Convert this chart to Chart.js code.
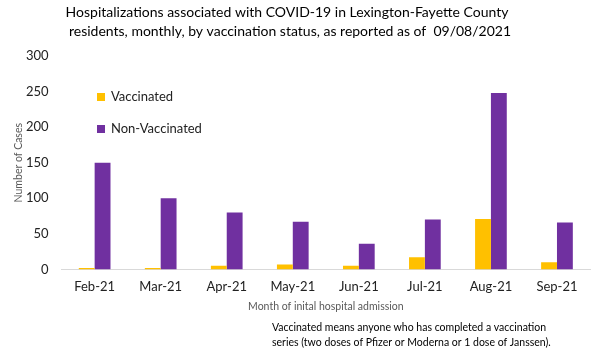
<!DOCTYPE html>
<html><head><meta charset="utf-8">
<script src="https://cdn.jsdelivr.net/npm/chart.js@4"></script>
<style>html,body{margin:0;padding:0;background:#fff}#wrap{width:600px;height:350px}</style>
</head><body><div id="wrap"><canvas id="c" width="600" height="350"></canvas></div>
<script>
const categories = ["Feb-21","Mar-21","Apr-21","May-21","Jun-21","Jul-21","Aug-21","Sep-21"];
const vaccinated = [2, 2, 5, 7, 5, 17, 71, 10];
const nonVaccinated = [150, 100, 80, 67, 36, 70, 248, 66];
const yTicks = [0, 50, 100, 150, 200, 250, 300];
const titleLines = ["Hospitalizations associated with COVID-19 in Lexington-Fayette County",
                    "residents, monthly, by vaccination status, as reported as of  09/08/2021"];
const footLines = ["Vaccinated means anyone who has completed a vaccination",
                   "series (two doses of Pfizer or Moderna or 1 dose of Janssen)."];
const yAxisTitle = "Number of Cases";
const xAxisTitle = "Month of inital hospital admission";
const FONT = "Lato, 'Open Sans', sans-serif";

const textPlugin = {
  id: 'texts',
  afterDraw(chart) {
    const ctx = chart.ctx;
    const a = chart.chartArea;
    ctx.save();
    ctx.fillStyle = '#000';
    ctx.font = "14px " + FONT;
    ctx.textAlign = 'center';
    ctx.textBaseline = 'middle';
    ctx.fillText(titleLines[0], 287, 12);
    ctx.fillText(titleLines[1], 290, 31);
    // y axis title
    ctx.save();
    ctx.translate(19, (a.top + a.bottom) / 2);
    ctx.rotate(-Math.PI / 2);
    ctx.fillStyle = '#595959';
    ctx.font = "10.5px " + FONT;
    ctx.fillText(yAxisTitle, 0, 0);
    ctx.restore();
    // x axis title
    ctx.fillStyle = '#595959';
    ctx.font = "10.5px " + FONT;
    ctx.fillText(xAxisTitle, (a.left + a.right) / 2, 307);
    // footnote
    ctx.fillStyle = '#000';
    ctx.font = "10.5px " + FONT;
    ctx.textAlign = 'left';
    ctx.fillText(footLines[0], 272, 328);
    ctx.fillText(footLines[1], 272, 343);
    // legend
    ctx.font = "13px " + FONT;
    const ds = chart.data.datasets;
    const ys = [97, 129];
    ds.forEach((d, i) => {
      ctx.fillStyle = d.backgroundColor;
      ctx.fillRect(97, ys[i] - 4, 8, 8);
      ctx.fillStyle = '#222';
      ctx.fillText(d.label, 111, ys[i]);
    });
    ctx.restore();
  }
};

new Chart(document.getElementById('c'), {
  type: 'bar',
  data: {
    labels: categories,
    datasets: [
      { label: 'Vaccinated', data: vaccinated, backgroundColor: '#FFC000', borderWidth: 0 },
      { label: 'Non-Vaccinated', data: nonVaccinated, backgroundColor: '#7030A0', borderWidth: 0 }
    ]
  },
  options: {
    responsive: false,
    animation: false,
    devicePixelRatio: 1,
    layout: { padding: { top: 56, bottom: 45, left: 13, right: 10 } },
    datasets: { bar: { barPercentage: 1.0, categoryPercentage: 0.48 } },
    plugins: { legend: { display: false }, title: { display: false }, tooltip: { enabled: false } },
    scales: {
      x: {
        grid: { display: false, drawTicks: false },
        border: { display: true, color: '#d9d9d9', width: 1 },
        ticks: { color: '#222', font: { family: FONT, size: 13 }, padding: 10 }
      },
      y: {
        min: 0, max: 300,
        afterBuildTicks(axis) { axis.ticks = yTicks.map(v => ({ value: v })); },
        grid: { display: false, drawTicks: false },
        border: { display: false },
        ticks: { color: '#222', font: { family: FONT, size: 13 }, padding: 13 }
      }
    }
  },
  plugins: [textPlugin]
});
</script></body></html>
